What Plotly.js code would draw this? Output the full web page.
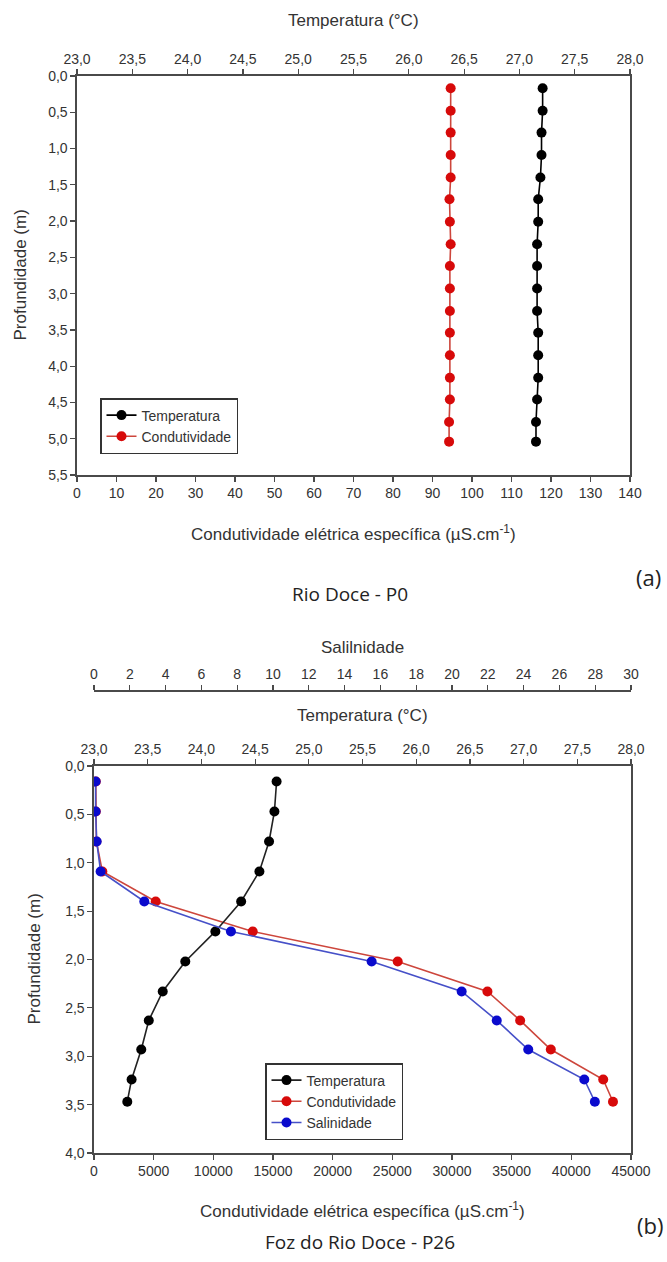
<!DOCTYPE html>
<html>
<head>
<meta charset="utf-8">
<script src="https://cdn.plot.ly/plotly-3.0.1.min.js"></script>
<style>html,body{margin:0;padding:0;background:#fff;}#chart{width:667px;height:1262px;}</style>
</head>
<body>
<div id="chart"></div>
<script>
// ---- Data: (a) Rio Doce - P0 ----
const topDepth = [0.17,0.48,0.78,1.09,1.40,1.70,2.01,2.32,2.62,2.93,3.24,3.54,3.85,4.16,4.46,4.77,5.04];
const topTemp  = [27.21,27.21,27.20,27.20,27.19,27.17,27.17,27.16,27.16,27.16,27.16,27.17,27.17,27.17,27.16,27.15,27.15];
const topCond  = [94.6,94.6,94.6,94.6,94.6,94.3,94.4,94.6,94.4,94.4,94.4,94.4,94.4,94.4,94.4,94.2,94.2];

// ---- Data: (b) Foz do Rio Doce - P26 ----
const botDepth = [0.16,0.47,0.78,1.09,1.40,1.71,2.02,2.33,2.63,2.93,3.24,3.47];
const botTemp  = [24.70,24.68,24.63,24.54,24.37,24.13,23.85,23.64,23.51,23.44,23.35,23.31];
const botCond  = [150,150,200,700,5170,13300,25450,32970,35710,38280,42670,43490];
const botSal   = [0.09,0.09,0.15,0.37,2.81,7.65,15.51,20.54,22.50,24.26,27.39,27.98];

const seriesNames = ['Temperatura','Condutividade','Salinidade'];

const W = 667, H = 1262;
const X = px => px / W;
const Y = py => 1 - py / H;

const FONT = 'Liberation Sans, Arial, sans-serif';
const CAP = 'Open Sans, Noto Sans, sans-serif';
const TXT = '#333';
const AX = '#4a4a4a';

const cBlack = '#000000', cRed = 'rgb(215,10,10)', cRedLine = 'rgb(205,70,60)';
const cBlue = 'rgb(10,10,205)', cBlueLine = 'rgb(70,80,200)';

function mk(x, y, name, xa, ya, mcol, lcol, leg) {
  return {x: x, y: y, name: name, type: 'scatter', mode: 'lines+markers',
    xaxis: xa, yaxis: ya, legend: leg,
    line: {color: lcol, width: 1.6},
    marker: {color: mcol, size: 10, symbol: 'circle'}};
}

const traces = [
  mk(topTemp, topDepth, seriesNames[0], 'x2', 'y', cBlack, cBlack, 'legend'),
  mk(topCond, topDepth, seriesNames[1], 'x', 'y', cRed, cRedLine, 'legend'),
  mk(botTemp, botDepth, seriesNames[0], 'x4', 'y2', cBlack, '#222', 'legend2'),
  mk(botCond, botDepth, seriesNames[1], 'x3', 'y2', cRed, cRedLine, 'legend2'),
  mk(botSal, botDepth, seriesNames[2], 'x5', 'y2', cBlue, cBlueLine, 'legend2')
];

const base = {showline: true, linecolor: AX, linewidth: 1.6, ticks: 'outside', ticklen: 5,
  tickwidth: 1.2, tickcolor: AX, showgrid: false, zeroline: false,
  tickfont: {family: FONT, size: 14, color: TXT}, fixedrange: true};

const topL = 77, topR = 630, topT = 76, topB = 475;
const botL = 94, botR = 631, botT = 766, botB = 1153;

const layout = {
  width: W, height: H,
  margin: {l: 0, r: 0, t: 0, b: 0},
  paper_bgcolor: '#fff', plot_bgcolor: '#fff',
  separators: ',.',
  font: {family: FONT, color: TXT},
  xaxis: Object.assign({}, base, {domain: [X(topL), X(topR)], anchor: 'y', range: [0, 140], tick0: 0, dtick: 10, tickformat: 'd'}),
  xaxis2: Object.assign({}, base, {domain: [X(topL), X(topR)], anchor: 'y', overlaying: 'x', side: 'top', range: [23, 28], tick0: 23, dtick: 0.5, tickformat: '.1f'}),
  yaxis: Object.assign({}, base, {domain: [Y(topB), Y(topT)], anchor: 'x', range: [5.5, 0], tick0: 0, dtick: 0.5, tickformat: '.1f', mirror: true}),
  xaxis3: Object.assign({}, base, {domain: [X(botL), X(botR)], anchor: 'y2', range: [0, 45000], tick0: 0, dtick: 5000, tickformat: 'd'}),
  xaxis4: Object.assign({}, base, {domain: [X(botL), X(botR)], anchor: 'y2', overlaying: 'x3', side: 'top', range: [23, 28], tick0: 23, dtick: 0.5, tickformat: '.1f'}),
  xaxis5: Object.assign({}, base, {domain: [X(botL), X(botR)], anchor: 'free', position: Y(690), overlaying: 'x3', side: 'top', range: [0, 30], tick0: 0, dtick: 2, tickformat: 'd'}),
  yaxis2: Object.assign({}, base, {domain: [Y(botB), Y(botT)], anchor: 'x3', range: [4, 0], tick0: 0, dtick: 0.5, tickformat: '.1f', mirror: true}),
  legend: {x: X(100), y: Y(398), xanchor: 'left', yanchor: 'top', bgcolor: '#fff',
    bordercolor: '#333', borderwidth: 1.5, font: {family: FONT, size: 14, color: TXT}, tracegroupgap: 0},
  legend2: {x: X(265), y: Y(1063), xanchor: 'left', yanchor: 'top', bgcolor: '#fff',
    bordercolor: '#333', borderwidth: 1.5, font: {family: FONT, size: 14, color: TXT}, tracegroupgap: 0},
  showlegend: true,
  annotations: [
    {text: 'Temperatura (°C)', x: X((topL + topR) / 2), y: Y(21)},
    {text: 'Condutividade elétrica específica (µS.cm<sup>-1</sup>)', x: X((topL + topR) / 2), y: Y(533)},
    {text: 'Profundidade (m)', x: X(20), y: Y((topT + topB) / 2), textangle: -90},
    {text: 'Rio Doce - P0', x: X(350), y: Y(594), font: {family: CAP, size: 19, color: '#222'}},
    {text: '(a)', x: X(648), y: Y(577), font: {family: CAP, size: 22, color: '#222'}},
    {text: 'Salilnidade', x: X((botL + botR) / 2), y: Y(648)},
    {text: 'Temperatura (°C)', x: X((botL + botR) / 2), y: Y(715)},
    {text: 'Profundidade (m)', x: X(34), y: Y((botT + botB) / 2), textangle: -90},
    {text: 'Condutividade elétrica específica (µS.cm<sup>-1</sup>)', x: X((botL + botR) / 2), y: Y(1210)},
    {text: 'Foz do Rio Doce - P26', x: X(360), y: Y(1242), font: {family: CAP, size: 19, color: '#222'}},
    {text: '(b)', x: X(650), y: Y(1225), font: {family: CAP, size: 22, color: '#222'}}
  ].map(a => Object.assign({xref: 'paper', yref: 'paper', xanchor: 'center', yanchor: 'middle',
    showarrow: false, font: {family: FONT, size: 17, color: TXT}}, a))
};

Plotly.newPlot('chart', traces, layout, {displayModeBar: false, staticPlot: true});
</script>
</body>
</html>
